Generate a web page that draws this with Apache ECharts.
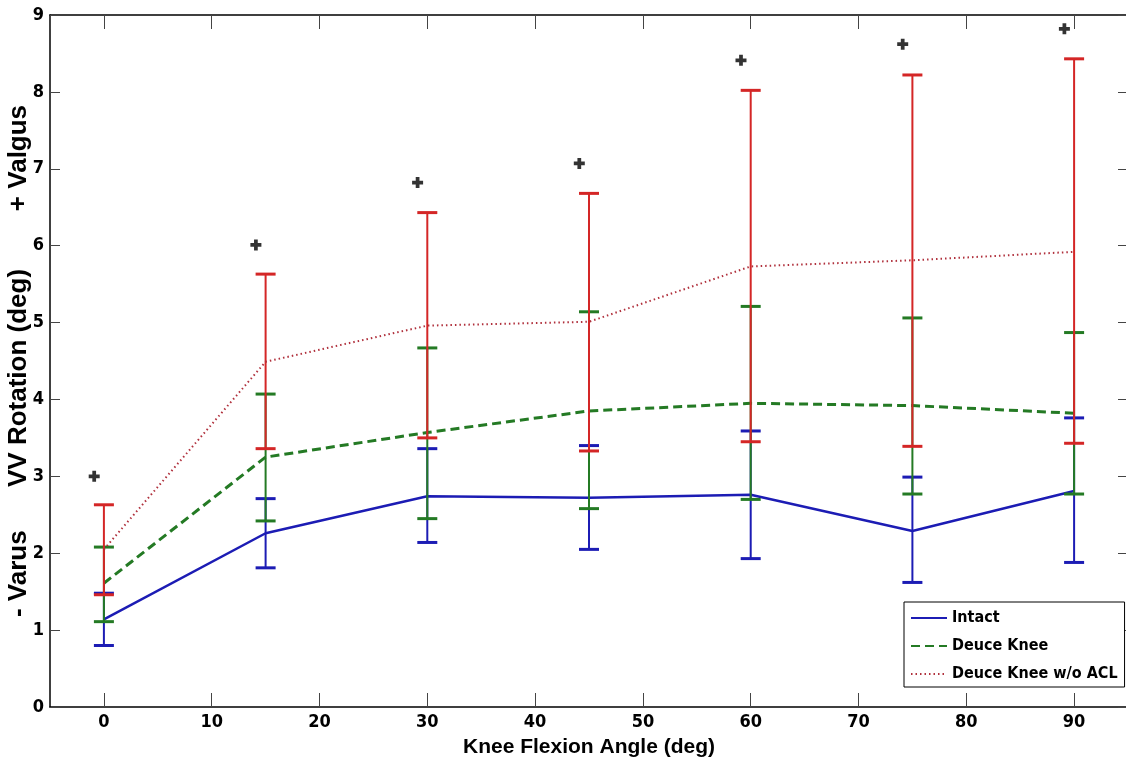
<!DOCTYPE html>
<html>
<head>
<meta charset="utf-8">
<script src="https://cdn.jsdelivr.net/npm/echarts@6/dist/echarts.min.js"></script>
<style>
  html, body { margin: 0; padding: 0; background: #fff; }
  #vv { width: 1126px; height: 767px; }
</style>
</head>
<body>
<div id="vv"></div>
<script>
// knee flexion angles (deg)
var angles = [0, 15, 30, 45, 60, 75, 90];

// Intact
var intactMean = [1.14, 2.26, 2.74, 2.72, 2.76, 2.29, 2.81];
var intactLow  = [0.80, 1.81, 2.14, 2.05, 1.93, 1.62, 1.88];
var intactHigh = [1.48, 2.71, 3.36, 3.40, 3.59, 2.99, 3.76];

// Deuce Knee
var deuceMean = [1.61, 3.25, 3.57, 3.85, 3.95, 3.92, 3.82];
var deuceLow  = [1.11, 2.42, 2.45, 2.58, 2.70, 2.77, 2.77];
var deuceHigh = [2.08, 4.07, 4.67, 5.14, 5.21, 5.06, 4.87];

// Deuce Knee w/o ACL
var aclMean = [2.05, 4.49, 4.96, 5.01, 5.73, 5.81, 5.92];
var aclLow  = [1.46, 3.36, 3.50, 3.33, 3.45, 3.39, 3.43];
var aclHigh = [2.63, 5.63, 6.43, 6.68, 8.02, 8.22, 8.43];

// significance markers (+)
var signX = [-0.9, 14.1, 29.1, 44.1, 59.1, 74.1, 89.1];
var signY = [3.00, 6.01, 6.82, 7.07, 8.41, 8.62, 8.82];

var narrow = "'Liberation Sans Narrow', 'Arial Narrow', 'DejaVu Sans Condensed', sans-serif";
var bold = "'Liberation Sans', Arial, sans-serif";

var blue = '#1c1cb4';
var green = '#247a24';
var red = '#d42626';
var dotRed = '#b0303c';

function pairs(xs, ys) {
  return xs.map(function (x, i) { return [x, ys[i]]; });
}
function bars(lo, hi) {
  return angles.map(function (x, i) { return [x, lo[i], hi[i]]; });
}

// vertical error bar with caps at both ends
function errorBar(color) {
  return function (params, api) {
    var x = api.value(0);
    var lo = api.coord([x, api.value(1)]);
    var hi = api.coord([x, api.value(2)]);
    var half = 10;
    var stem = { stroke: color, lineWidth: 2 };
    var cap = { stroke: color, lineWidth: 3 };
    return {
      type: 'group',
      children: [
        { type: 'line', shape: { x1: lo[0], y1: lo[1], x2: hi[0], y2: hi[1] }, style: stem },
        { type: 'line', shape: { x1: lo[0] - half, y1: lo[1], x2: lo[0] + half, y2: lo[1] }, style: cap },
        { type: 'line', shape: { x1: hi[0] - half, y1: hi[1], x2: hi[0] + half, y2: hi[1] }, style: cap }
      ]
    };
  };
}

var myChart = echarts.init(document.getElementById('vv'));

var option = {
  animation: false,
  backgroundColor: '#fff',
  grid: { left: 50, right: -2, top: 15, bottom: 60, containLabel: false, outerBoundsMode: 'none' },
  legend: {
    data: ['Intact', 'Deuce Knee', 'Deuce Knee w/o ACL'],
    orient: 'vertical',
    left: 904,
    top: 602,
    padding: [8, 7, 5, 6],
    itemWidth: 36,
    itemHeight: 14,
    itemGap: 12,
    backgroundColor: '#fff',
    borderColor: '#000',
    borderWidth: 1,
    borderRadius: 0,
    selectedMode: false,
    itemStyle: { opacity: 0 },
    textStyle: { fontFamily: narrow, fontWeight: 'bold', fontSize: 16, color: '#000' }
  },
  xAxis: [{
    type: 'value',
    position: 'bottom',
    min: -5,
    max: 95,
    splitNumber: 10,
    name: 'Knee Flexion Angle (deg)',
    nameLocation: 'middle',
    nameGap: 30,
    nameTextStyle: { fontFamily: bold, fontWeight: 'bold', fontSize: 21, color: '#000' },
    splitLine: { show: false },
    axisLine: { onZero: false, lineStyle: { color: '#000', width: 1.5 } },
    axisTick: { inside: true, length: 14, lineStyle: { color: '#444' } },
    axisLabel: {
      margin: 6,
      fontFamily: narrow, fontWeight: 'bold', fontSize: 18, color: '#000',
      showMinLabel: false, showMaxLabel: false,
      formatter: function (v) { return v % 10 === 0 ? v : ''; }
    }
  }, {
    type: 'value',
    position: 'top',
    min: -5,
    max: 95,
    splitNumber: 10,
    splitLine: { show: false },
    axisLine: { onZero: false, lineStyle: { color: '#000', width: 1.5 } },
    axisTick: { inside: true, length: 14, lineStyle: { color: '#444' } },
    axisLabel: { show: false }
  }],
  yAxis: [{
    type: 'value',
    position: 'left',
    min: 0,
    max: 9,
    interval: 1,
    name: '- Varus      VV Rotation (deg)        + Valgus',
    nameLocation: 'middle',
    nameGap: 18,
    nameMoveOverlap: false,
    nameTextStyle: { fontFamily: bold, fontWeight: 'bold', fontSize: 26, color: '#000' },
    splitLine: { show: false },
    axisLine: { onZero: false, lineStyle: { color: '#000', width: 1.5 } },
    axisTick: { inside: true, length: 10, lineStyle: { color: '#444' } },
    axisLabel: { margin: 6, fontFamily: narrow, fontWeight: 'bold', fontSize: 18, color: '#000' }
  }, {
    type: 'value',
    position: 'right',
    min: 0,
    max: 9,
    interval: 1,
    splitLine: { show: false },
    axisLine: { onZero: false, lineStyle: { color: '#000', width: 1.5 } },
    axisTick: { inside: true, length: 10, lineStyle: { color: '#444' } },
    axisLabel: { show: false }
  }],
  series: [
    {
      name: 'Intact',
      type: 'line',
      data: pairs(angles, intactMean),
      symbol: 'none',
      color: blue,
      lineStyle: { color: blue, width: 2.5 },
      z: 3
    },
    {
      name: 'Intact SD',
      type: 'custom',
      data: bars(intactLow, intactHigh),
      renderItem: errorBar(blue),
      encode: { x: 0, y: [1, 2] },
      z: 3
    },
    {
      name: 'Deuce Knee',
      type: 'line',
      data: pairs(angles, deuceMean),
      symbol: 'none',
      color: green,
      lineStyle: { color: green, width: 3, type: [9, 5] },
      z: 4
    },
    {
      name: 'Deuce Knee SD',
      type: 'custom',
      data: bars(deuceLow, deuceHigh),
      renderItem: errorBar(green),
      encode: { x: 0, y: [1, 2] },
      z: 4
    },
    {
      name: 'Deuce Knee w/o ACL',
      type: 'line',
      data: pairs(angles, aclMean),
      symbol: 'none',
      color: dotRed,
      lineStyle: { color: dotRed, width: 2, type: [1.5, 3] },
      z: 5
    },
    {
      name: 'Deuce Knee w/o ACL SD',
      type: 'custom',
      data: bars(aclLow, aclHigh),
      renderItem: errorBar(red),
      encode: { x: 0, y: [1, 2] },
      z: 5
    },
    {
      name: 'sig',
      type: 'scatter',
      data: pairs(signX, signY),
      symbol: 'path://M3.3,0H6.7V3.3H10V6.7H6.7V10H3.3V6.7H0V3.3H3.3Z',
      symbolSize: 11,
      itemStyle: { color: '#000' },
      z: 6
    }
  ]
};

myChart.setOption(option);
</script>
</body>
</html>
